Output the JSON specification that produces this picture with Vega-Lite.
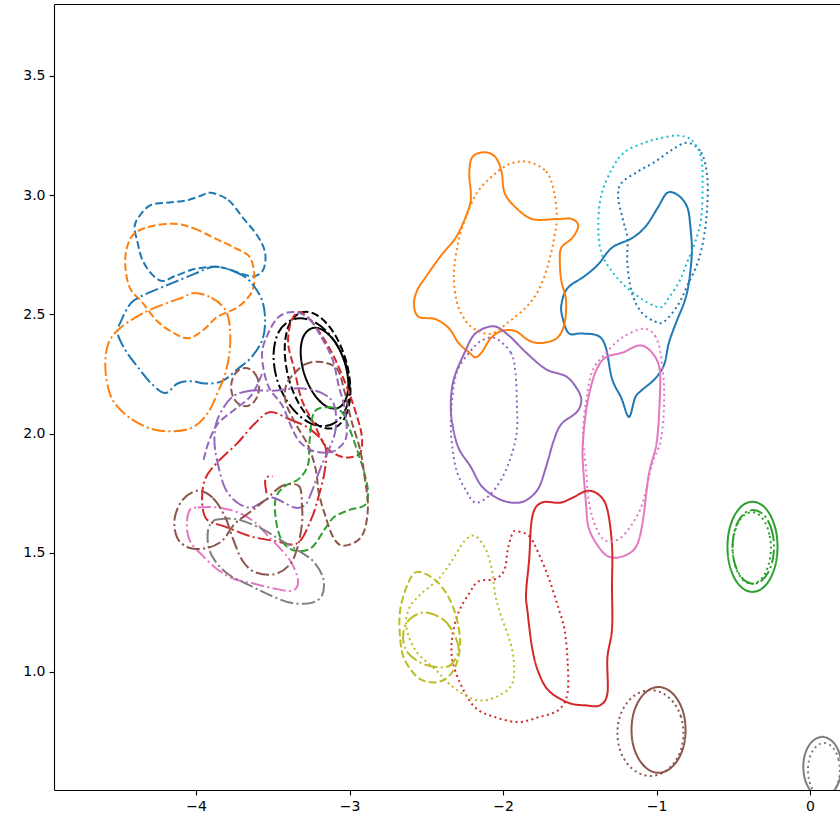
{
"$schema": "https://vega.github.io/schema/vega-lite/v6.json",
"autosize": {"type": "none"},
"padding": {"left": 54, "top": 4, "right": 0, "bottom": 29},
"width": 786,
"height": 786,
"background": "white",
"config": {
  "view": {"stroke": null},
  "axis": {"grid": false, "domainColor": "black", "domainWidth": 1.1, "tickColor": "black", "tickWidth": 1.1, "tickSize": 5, "labelColor": "black", "labelFont": "DejaVu Sans", "labelFontSize": 14, "labelPadding": 4, "title": null}
},
"data": {"values": [
{"c":"bl-s","x":-1.18,"y":2.07},{"c":"bl-s","x":-1.23,"y":2.15},{"c":"bl-s","x":-1.29,"y":2.23},{"c":"bl-s","x":-1.33,"y":2.36},{"c":"bl-s","x":-1.38,"y":2.41},{"c":"bl-s","x":-1.49,"y":2.42},{"c":"bl-s","x":-1.57,"y":2.42},{"c":"bl-s","x":-1.61,"y":2.48},{"c":"bl-s","x":-1.62,"y":2.54},{"c":"bl-s","x":-1.58,"y":2.61},{"c":"bl-s","x":-1.47,"y":2.66},{"c":"bl-s","x":-1.38,"y":2.71},{"c":"bl-s","x":-1.29,"y":2.78},{"c":"bl-s","x":-1.16,"y":2.82},{"c":"bl-s","x":-1.07,"y":2.87},{"c":"bl-s","x":-0.99,"y":2.95},{"c":"bl-s","x":-0.93,"y":3.01},{"c":"bl-s","x":-0.86,"y":3.0},{"c":"bl-s","x":-0.8,"y":2.95},{"c":"bl-s","x":-0.78,"y":2.87},{"c":"bl-s","x":-0.77,"y":2.76},{"c":"bl-s","x":-0.79,"y":2.63},{"c":"bl-s","x":-0.82,"y":2.55},{"c":"bl-s","x":-0.87,"y":2.47},{"c":"bl-s","x":-0.92,"y":2.38},{"c":"bl-s","x":-0.95,"y":2.29},{"c":"bl-s","x":-1.01,"y":2.23},{"c":"bl-s","x":-1.1,"y":2.18},{"c":"bl-s","x":-1.14,"y":2.15},
{"c":"or-s","x":-2.12,"y":3.18},{"c":"or-s","x":-2.05,"y":3.16},{"c":"or-s","x":-2.01,"y":3.1},{"c":"or-s","x":-1.99,"y":3.01},{"c":"or-s","x":-1.92,"y":2.95},{"c":"or-s","x":-1.81,"y":2.9},{"c":"or-s","x":-1.65,"y":2.9},{"c":"or-s","x":-1.55,"y":2.9},{"c":"or-s","x":-1.51,"y":2.87},{"c":"or-s","x":-1.55,"y":2.82},{"c":"or-s","x":-1.62,"y":2.78},{"c":"or-s","x":-1.63,"y":2.72},{"c":"or-s","x":-1.62,"y":2.64},{"c":"or-s","x":-1.59,"y":2.56},{"c":"or-s","x":-1.6,"y":2.46},{"c":"or-s","x":-1.65,"y":2.4},{"c":"or-s","x":-1.75,"y":2.38},{"c":"or-s","x":-1.83,"y":2.39},{"c":"or-s","x":-1.92,"y":2.43},{"c":"or-s","x":-2.01,"y":2.43},{"c":"or-s","x":-2.08,"y":2.4},{"c":"or-s","x":-2.14,"y":2.34},{"c":"or-s","x":-2.18,"y":2.32},{"c":"or-s","x":-2.22,"y":2.34},{"c":"or-s","x":-2.29,"y":2.38},{"c":"or-s","x":-2.35,"y":2.44},{"c":"or-s","x":-2.44,"y":2.48},{"c":"or-s","x":-2.55,"y":2.49},{"c":"or-s","x":-2.58,"y":2.54},{"c":"or-s","x":-2.56,"y":2.6},{"c":"or-s","x":-2.5,"y":2.66},{"c":"or-s","x":-2.4,"y":2.75},{"c":"or-s","x":-2.3,"y":2.83},{"c":"or-s","x":-2.22,"y":2.95},{"c":"or-s","x":-2.21,"y":3.01},{"c":"or-s","x":-2.22,"y":3.09},{"c":"or-s","x":-2.2,"y":3.16},
{"c":"pu-s","x":-2.06,"y":2.45},{"c":"pu-s","x":-1.96,"y":2.41},{"c":"pu-s","x":-1.85,"y":2.34},{"c":"pu-s","x":-1.72,"y":2.27},{"c":"pu-s","x":-1.59,"y":2.24},{"c":"pu-s","x":-1.52,"y":2.19},{"c":"pu-s","x":-1.49,"y":2.14},{"c":"pu-s","x":-1.52,"y":2.09},{"c":"pu-s","x":-1.62,"y":2.04},{"c":"pu-s","x":-1.67,"y":1.97},{"c":"pu-s","x":-1.72,"y":1.86},{"c":"pu-s","x":-1.77,"y":1.77},{"c":"pu-s","x":-1.85,"y":1.72},{"c":"pu-s","x":-1.94,"y":1.71},{"c":"pu-s","x":-2.04,"y":1.73},{"c":"pu-s","x":-2.14,"y":1.78},{"c":"pu-s","x":-2.21,"y":1.86},{"c":"pu-s","x":-2.29,"y":1.94},{"c":"pu-s","x":-2.33,"y":2.04},{"c":"pu-s","x":-2.34,"y":2.13},{"c":"pu-s","x":-2.32,"y":2.23},{"c":"pu-s","x":-2.25,"y":2.34},{"c":"pu-s","x":-2.18,"y":2.42},
{"c":"pk-s","x":-1.11,"y":2.37},{"c":"pk-s","x":-1.03,"y":2.34},{"c":"pk-s","x":-0.98,"y":2.27},{"c":"pk-s","x":-0.98,"y":2.13},{"c":"pk-s","x":-1.0,"y":1.96},{"c":"pk-s","x":-1.05,"y":1.83},{"c":"pk-s","x":-1.09,"y":1.63},{"c":"pk-s","x":-1.13,"y":1.53},{"c":"pk-s","x":-1.2,"y":1.49},{"c":"pk-s","x":-1.29,"y":1.48},{"c":"pk-s","x":-1.36,"y":1.51},{"c":"pk-s","x":-1.44,"y":1.6},{"c":"pk-s","x":-1.46,"y":1.71},{"c":"pk-s","x":-1.48,"y":1.88},{"c":"pk-s","x":-1.48,"y":1.96},{"c":"pk-s","x":-1.46,"y":2.09},{"c":"pk-s","x":-1.43,"y":2.19},{"c":"pk-s","x":-1.39,"y":2.27},{"c":"pk-s","x":-1.33,"y":2.32},{"c":"pk-s","x":-1.22,"y":2.34},
{"c":"rd-s","x":-1.45,"y":1.76},{"c":"rd-s","x":-1.37,"y":1.74},{"c":"rd-s","x":-1.32,"y":1.68},{"c":"rd-s","x":-1.29,"y":1.53},{"c":"rd-s","x":-1.29,"y":1.36},{"c":"rd-s","x":-1.29,"y":1.18},{"c":"rd-s","x":-1.32,"y":1.06},{"c":"rd-s","x":-1.32,"y":0.91},{"c":"rd-s","x":-1.37,"y":0.86},{"c":"rd-s","x":-1.46,"y":0.86},{"c":"rd-s","x":-1.57,"y":0.87},{"c":"rd-s","x":-1.7,"y":0.92},{"c":"rd-s","x":-1.77,"y":1.0},{"c":"rd-s","x":-1.81,"y":1.1},{"c":"rd-s","x":-1.84,"y":1.25},{"c":"rd-s","x":-1.85,"y":1.33},{"c":"rd-s","x":-1.83,"y":1.47},{"c":"rd-s","x":-1.81,"y":1.65},{"c":"rd-s","x":-1.75,"y":1.71},{"c":"rd-s","x":-1.63,"y":1.71},{"c":"rd-s","x":-1.55,"y":1.73},
{"c":"gr-s","x":-0.212,"y":1.525},{"c":"gr-s","x":-0.224,"y":1.597},{"c":"gr-s","x":-0.26,"y":1.659},{"c":"gr-s","x":-0.313,"y":1.7},{"c":"gr-s","x":-0.375,"y":1.714},{"c":"gr-s","x":-0.437,"y":1.7},{"c":"gr-s","x":-0.49,"y":1.659},{"c":"gr-s","x":-0.526,"y":1.597},{"c":"gr-s","x":-0.538,"y":1.525},{"c":"gr-s","x":-0.526,"y":1.453},{"c":"gr-s","x":-0.49,"y":1.391},{"c":"gr-s","x":-0.437,"y":1.35},{"c":"gr-s","x":-0.375,"y":1.336},{"c":"gr-s","x":-0.313,"y":1.35},{"c":"gr-s","x":-0.26,"y":1.391},{"c":"gr-s","x":-0.224,"y":1.453},
{"c":"gr-c","x":-0.235,"y":1.525},{"c":"gr-c","x":-0.245,"y":1.584},{"c":"gr-c","x":-0.275,"y":1.635},{"c":"gr-c","x":-0.318,"y":1.668},{"c":"gr-c","x":-0.37,"y":1.68},{"c":"gr-c","x":-0.422,"y":1.668},{"c":"gr-c","x":-0.465,"y":1.635},{"c":"gr-c","x":-0.495,"y":1.584},{"c":"gr-c","x":-0.505,"y":1.525},{"c":"gr-c","x":-0.495,"y":1.466},{"c":"gr-c","x":-0.465,"y":1.415},{"c":"gr-c","x":-0.422,"y":1.382},{"c":"gr-c","x":-0.37,"y":1.37},{"c":"gr-c","x":-0.318,"y":1.382},{"c":"gr-c","x":-0.275,"y":1.415},{"c":"gr-c","x":-0.245,"y":1.466},
{"c":"gr-d","x":-0.255,"y":1.52},{"c":"gr-d","x":-0.265,"y":1.577},{"c":"gr-d","x":-0.292,"y":1.626},{"c":"gr-d","x":-0.332,"y":1.659},{"c":"gr-d","x":-0.38,"y":1.67},{"c":"gr-d","x":-0.428,"y":1.659},{"c":"gr-d","x":-0.468,"y":1.626},{"c":"gr-d","x":-0.495,"y":1.577},{"c":"gr-d","x":-0.505,"y":1.52},{"c":"gr-d","x":-0.495,"y":1.463},{"c":"gr-d","x":-0.468,"y":1.414},{"c":"gr-d","x":-0.428,"y":1.381},{"c":"gr-d","x":-0.38,"y":1.37},{"c":"gr-d","x":-0.332,"y":1.381},{"c":"gr-d","x":-0.292,"y":1.414},{"c":"gr-d","x":-0.265,"y":1.463},
{"c":"br-s","x":-0.811,"y":0.757},{"c":"br-s","x":-0.824,"y":0.826},{"c":"br-s","x":-0.863,"y":0.884},{"c":"br-s","x":-0.92,"y":0.923},{"c":"br-s","x":-0.987,"y":0.937},{"c":"br-s","x":-1.054,"y":0.923},{"c":"br-s","x":-1.111,"y":0.884},{"c":"br-s","x":-1.15,"y":0.826},{"c":"br-s","x":-1.163,"y":0.757},{"c":"br-s","x":-1.15,"y":0.688},{"c":"br-s","x":-1.111,"y":0.63},{"c":"br-s","x":-1.054,"y":0.591},{"c":"br-s","x":-0.987,"y":0.577},{"c":"br-s","x":-0.92,"y":0.591},{"c":"br-s","x":-0.863,"y":0.63},{"c":"br-s","x":-0.824,"y":0.688},
{"c":"br-d","x":-0.825,"y":0.744},{"c":"br-d","x":-0.841,"y":0.813},{"c":"br-d","x":-0.888,"y":0.871},{"c":"br-d","x":-0.958,"y":0.91},{"c":"br-d","x":-1.04,"y":0.924},{"c":"br-d","x":-1.122,"y":0.91},{"c":"br-d","x":-1.192,"y":0.871},{"c":"br-d","x":-1.239,"y":0.813},{"c":"br-d","x":-1.255,"y":0.744},{"c":"br-d","x":-1.239,"y":0.675},{"c":"br-d","x":-1.192,"y":0.617},{"c":"br-d","x":-1.122,"y":0.578},{"c":"br-d","x":-1.04,"y":0.564},{"c":"br-d","x":-0.958,"y":0.578},{"c":"br-d","x":-0.888,"y":0.617},{"c":"br-d","x":-0.841,"y":0.675},
{"c":"gy-s","x":0.204,"y":0.602},{"c":"gy-s","x":0.195,"y":0.65},{"c":"gy-s","x":0.168,"y":0.691},{"c":"gy-s","x":0.127,"y":0.718},{"c":"gy-s","x":0.08,"y":0.728},{"c":"gy-s","x":0.033,"y":0.718},{"c":"gy-s","x":-0.008,"y":0.691},{"c":"gy-s","x":-0.035,"y":0.65},{"c":"gy-s","x":-0.044,"y":0.602},{"c":"gy-s","x":-0.035,"y":0.554},{"c":"gy-s","x":-0.008,"y":0.513},{"c":"gy-s","x":0.033,"y":0.486},{"c":"gy-s","x":0.08,"y":0.476},{"c":"gy-s","x":0.127,"y":0.486},{"c":"gy-s","x":0.168,"y":0.513},{"c":"gy-s","x":0.195,"y":0.554},
{"c":"gy-d","x":0.194,"y":0.589},{"c":"gy-d","x":0.186,"y":0.632},{"c":"gy-d","x":0.164,"y":0.669},{"c":"gy-d","x":0.13,"y":0.693},{"c":"gy-d","x":0.09,"y":0.702},{"c":"gy-d","x":0.05,"y":0.693},{"c":"gy-d","x":0.016,"y":0.669},{"c":"gy-d","x":-0.006,"y":0.632},{"c":"gy-d","x":-0.014,"y":0.589},{"c":"gy-d","x":-0.006,"y":0.546},{"c":"gy-d","x":0.016,"y":0.509},{"c":"gy-d","x":0.05,"y":0.485},{"c":"gy-d","x":0.09,"y":0.476},{"c":"gy-d","x":0.13,"y":0.485},{"c":"gy-d","x":0.164,"y":0.509},{"c":"gy-d","x":0.186,"y":0.546},
{"c":"bk-s","x":-3.078,"y":2.107},{"c":"bk-s","x":-3.025,"y":2.143},{"c":"bk-s","x":-3.008,"y":2.214},{"c":"bk-s","x":-3.033,"y":2.302},{"c":"bk-s","x":-3.092,"y":2.382},{"c":"bk-s","x":-3.171,"y":2.433},{"c":"bk-s","x":-3.244,"y":2.442},{"c":"bk-s","x":-3.301,"y":2.406},{"c":"bk-s","x":-3.318,"y":2.335},{"c":"bk-s","x":-3.293,"y":2.247},{"c":"bk-s","x":-3.233,"y":2.167},{"c":"bk-s","x":-3.155,"y":2.116},
{"c":"bk-a","x":-3.107,"y":2.023},{"c":"bk-a","x":-3.026,"y":2.072},{"c":"bk-a","x":-2.994,"y":2.173},{"c":"bk-a","x":-3.02,"y":2.299},{"c":"bk-a","x":-3.096,"y":2.416},{"c":"bk-a","x":-3.202,"y":2.493},{"c":"bk-a","x":-3.309,"y":2.509},{"c":"bk-a","x":-3.391,"y":2.46},{"c":"bk-a","x":-3.422,"y":2.359},{"c":"bk-a","x":-3.397,"y":2.233},{"c":"bk-a","x":-3.321,"y":2.116},{"c":"bk-a","x":-3.215,"y":2.039},
{"c":"bk-c","x":-3.122,"y":2.037},{"c":"bk-c","x":-3.032,"y":2.092},{"c":"bk-c","x":-2.999,"y":2.191},{"c":"bk-c","x":-3.033,"y":2.308},{"c":"bk-c","x":-3.124,"y":2.411},{"c":"bk-c","x":-3.248,"y":2.474},{"c":"bk-c","x":-3.372,"y":2.478},{"c":"bk-c","x":-3.463,"y":2.424},{"c":"bk-c","x":-3.495,"y":2.324},{"c":"bk-c","x":-3.462,"y":2.207},{"c":"bk-c","x":-3.37,"y":2.104},{"c":"bk-c","x":-3.247,"y":2.041},
{"c":"bl-d","x":-0.8,"y":3.22},{"c":"bl-d","x":-0.71,"y":3.18},{"c":"bl-d","x":-0.67,"y":3.08},{"c":"bl-d","x":-0.67,"y":2.95},{"c":"bl-d","x":-0.69,"y":2.83},{"c":"bl-d","x":-0.73,"y":2.72},{"c":"bl-d","x":-0.8,"y":2.62},{"c":"bl-d","x":-0.86,"y":2.54},{"c":"bl-d","x":-0.95,"y":2.47},{"c":"bl-d","x":-1.01,"y":2.47},{"c":"bl-d","x":-1.1,"y":2.51},{"c":"bl-d","x":-1.16,"y":2.59},{"c":"bl-d","x":-1.19,"y":2.71},{"c":"bl-d","x":-1.19,"y":2.82},{"c":"bl-d","x":-1.22,"y":2.9},{"c":"bl-d","x":-1.25,"y":2.99},{"c":"bl-d","x":-1.23,"y":3.05},{"c":"bl-d","x":-1.12,"y":3.1},{"c":"bl-d","x":-1.01,"y":3.14},{"c":"bl-d","x":-0.9,"y":3.19},
{"c":"cy-d","x":-0.86,"y":3.25},{"c":"cy-d","x":-0.77,"y":3.23},{"c":"cy-d","x":-0.71,"y":3.16},{"c":"cy-d","x":-0.7,"y":3.04},{"c":"cy-d","x":-0.71,"y":2.9},{"c":"cy-d","x":-0.75,"y":2.8},{"c":"cy-d","x":-0.8,"y":2.72},{"c":"cy-d","x":-0.85,"y":2.64},{"c":"cy-d","x":-0.92,"y":2.57},{"c":"cy-d","x":-0.97,"y":2.53},{"c":"cy-d","x":-1.06,"y":2.55},{"c":"cy-d","x":-1.19,"y":2.61},{"c":"cy-d","x":-1.29,"y":2.68},{"c":"cy-d","x":-1.36,"y":2.76},{"c":"cy-d","x":-1.38,"y":2.87},{"c":"cy-d","x":-1.36,"y":3.0},{"c":"cy-d","x":-1.29,"y":3.11},{"c":"cy-d","x":-1.21,"y":3.18},{"c":"cy-d","x":-1.08,"y":3.22},{"c":"cy-d","x":-0.97,"y":3.24},
{"c":"or-d","x":-1.84,"y":3.14},{"c":"or-d","x":-1.72,"y":3.1},{"c":"or-d","x":-1.67,"y":3.02},{"c":"or-d","x":-1.65,"y":2.91},{"c":"or-d","x":-1.67,"y":2.81},{"c":"or-d","x":-1.71,"y":2.7},{"c":"or-d","x":-1.77,"y":2.6},{"c":"or-d","x":-1.85,"y":2.53},{"c":"or-d","x":-1.96,"y":2.47},{"c":"or-d","x":-2.07,"y":2.42},{"c":"or-d","x":-2.16,"y":2.43},{"c":"or-d","x":-2.24,"y":2.47},{"c":"or-d","x":-2.3,"y":2.55},{"c":"or-d","x":-2.32,"y":2.67},{"c":"or-d","x":-2.29,"y":2.81},{"c":"or-d","x":-2.24,"y":2.91},{"c":"or-d","x":-2.17,"y":3.01},{"c":"or-d","x":-2.07,"y":3.08},{"c":"or-d","x":-1.96,"y":3.13},
{"c":"pu-d","x":-2.05,"y":2.4},{"c":"pu-d","x":-1.95,"y":2.34},{"c":"pu-d","x":-1.92,"y":2.26},{"c":"pu-d","x":-1.91,"y":2.13},{"c":"pu-d","x":-1.91,"y":2.01},{"c":"pu-d","x":-1.95,"y":1.9},{"c":"pu-d","x":-2.01,"y":1.81},{"c":"pu-d","x":-2.09,"y":1.74},{"c":"pu-d","x":-2.18,"y":1.71},{"c":"pu-d","x":-2.24,"y":1.76},{"c":"pu-d","x":-2.3,"y":1.84},{"c":"pu-d","x":-2.33,"y":1.94},{"c":"pu-d","x":-2.34,"y":2.04},{"c":"pu-d","x":-2.33,"y":2.15},{"c":"pu-d","x":-2.3,"y":2.26},{"c":"pu-d","x":-2.22,"y":2.34},{"c":"pu-d","x":-2.14,"y":2.39},
{"c":"pk-d","x":-1.09,"y":2.44},{"c":"pk-d","x":-1.01,"y":2.41},{"c":"pk-d","x":-0.97,"y":2.32},{"c":"pk-d","x":-0.95,"y":2.16},{"c":"pk-d","x":-0.97,"y":1.98},{"c":"pk-d","x":-1.03,"y":1.87},{"c":"pk-d","x":-1.09,"y":1.71},{"c":"pk-d","x":-1.16,"y":1.62},{"c":"pk-d","x":-1.24,"y":1.56},{"c":"pk-d","x":-1.33,"y":1.55},{"c":"pk-d","x":-1.39,"y":1.6},{"c":"pk-d","x":-1.44,"y":1.71},{"c":"pk-d","x":-1.46,"y":1.86},{"c":"pk-d","x":-1.48,"y":1.99},{"c":"pk-d","x":-1.46,"y":2.13},{"c":"pk-d","x":-1.42,"y":2.26},{"c":"pk-d","x":-1.34,"y":2.33},{"c":"pk-d","x":-1.23,"y":2.4},
{"c":"rd-d","x":-1.91,"y":1.59},{"c":"rd-d","x":-1.83,"y":1.57},{"c":"rd-d","x":-1.77,"y":1.5},{"c":"rd-d","x":-1.7,"y":1.39},{"c":"rd-d","x":-1.64,"y":1.27},{"c":"rd-d","x":-1.6,"y":1.18},{"c":"rd-d","x":-1.58,"y":1.05},{"c":"rd-d","x":-1.58,"y":0.91},{"c":"rd-d","x":-1.64,"y":0.84},{"c":"rd-d","x":-1.77,"y":0.81},{"c":"rd-d","x":-1.9,"y":0.79},{"c":"rd-d","x":-2.05,"y":0.81},{"c":"rd-d","x":-2.18,"y":0.85},{"c":"rd-d","x":-2.27,"y":0.94},{"c":"rd-d","x":-2.33,"y":1.05},{"c":"rd-d","x":-2.33,"y":1.15},{"c":"rd-d","x":-2.29,"y":1.25},{"c":"rd-d","x":-2.22,"y":1.33},{"c":"rd-d","x":-2.16,"y":1.38},{"c":"rd-d","x":-2.05,"y":1.39},{"c":"rd-d","x":-1.99,"y":1.43},{"c":"rd-d","x":-1.97,"y":1.51},{"c":"rd-d","x":-1.94,"y":1.58},
{"c":"ol-d","x":-2.18,"y":1.57},{"c":"ol-d","x":-2.11,"y":1.51},{"c":"ol-d","x":-2.07,"y":1.42},{"c":"ol-d","x":-2.05,"y":1.32},{"c":"ol-d","x":-2.01,"y":1.23},{"c":"ol-d","x":-1.96,"y":1.14},{"c":"ol-d","x":-1.93,"y":1.05},{"c":"ol-d","x":-1.94,"y":0.95},{"c":"ol-d","x":-2.03,"y":0.9},{"c":"ol-d","x":-2.14,"y":0.88},{"c":"ol-d","x":-2.24,"y":0.9},{"c":"ol-d","x":-2.35,"y":0.95},{"c":"ol-d","x":-2.44,"y":1.01},{"c":"ol-d","x":-2.57,"y":1.09},{"c":"ol-d","x":-2.63,"y":1.19},{"c":"ol-d","x":-2.61,"y":1.27},{"c":"ol-d","x":-2.53,"y":1.33},{"c":"ol-d","x":-2.42,"y":1.39},{"c":"ol-d","x":-2.33,"y":1.47},{"c":"ol-d","x":-2.25,"y":1.55},
{"c":"ol-a","x":-2.56,"y":1.42},{"c":"ol-a","x":-2.45,"y":1.39},{"c":"ol-a","x":-2.36,"y":1.32},{"c":"ol-a","x":-2.3,"y":1.22},{"c":"ol-a","x":-2.28,"y":1.11},{"c":"ol-a","x":-2.32,"y":1.01},{"c":"ol-a","x":-2.41,"y":0.96},{"c":"ol-a","x":-2.54,"y":0.97},{"c":"ol-a","x":-2.64,"y":1.05},{"c":"ol-a","x":-2.67,"y":1.14},{"c":"ol-a","x":-2.67,"y":1.26},{"c":"ol-a","x":-2.62,"y":1.37},
{"c":"ol-c","x":-2.51,"y":1.25},{"c":"ol-c","x":-2.39,"y":1.22},{"c":"ol-c","x":-2.32,"y":1.16},{"c":"ol-c","x":-2.29,"y":1.09},{"c":"ol-c","x":-2.34,"y":1.03},{"c":"ol-c","x":-2.43,"y":1.02},{"c":"ol-c","x":-2.54,"y":1.04},{"c":"ol-c","x":-2.63,"y":1.09},{"c":"ol-c","x":-2.65,"y":1.16},{"c":"ol-c","x":-2.61,"y":1.22},
{"c":"bl-a","x":-3.9,"y":3.01},{"c":"bl-a","x":-3.79,"y":2.98},{"c":"bl-a","x":-3.7,"y":2.91},{"c":"bl-a","x":-3.6,"y":2.83},{"c":"bl-a","x":-3.55,"y":2.76},{"c":"bl-a","x":-3.56,"y":2.69},{"c":"bl-a","x":-3.62,"y":2.66},{"c":"bl-a","x":-3.7,"y":2.67},{"c":"bl-a","x":-3.79,"y":2.69},{"c":"bl-a","x":-3.88,"y":2.7},{"c":"bl-a","x":-4.01,"y":2.69},{"c":"bl-a","x":-4.14,"y":2.66},{"c":"bl-a","x":-4.22,"y":2.64},{"c":"bl-a","x":-4.29,"y":2.67},{"c":"bl-a","x":-4.35,"y":2.73},{"c":"bl-a","x":-4.38,"y":2.8},{"c":"bl-a","x":-4.4,"y":2.87},{"c":"bl-a","x":-4.36,"y":2.92},{"c":"bl-a","x":-4.29,"y":2.96},{"c":"bl-a","x":-4.16,"y":2.97},{"c":"bl-a","x":-4.05,"y":2.98},{"c":"bl-a","x":-3.96,"y":3.0},
{"c":"or-a","x":-4.14,"y":2.88},{"c":"or-a","x":-4.01,"y":2.86},{"c":"or-a","x":-3.88,"y":2.82},{"c":"or-a","x":-3.75,"y":2.78},{"c":"or-a","x":-3.65,"y":2.74},{"c":"or-a","x":-3.62,"y":2.66},{"c":"or-a","x":-3.64,"y":2.59},{"c":"or-a","x":-3.73,"y":2.53},{"c":"or-a","x":-3.86,"y":2.49},{"c":"or-a","x":-3.96,"y":2.43},{"c":"or-a","x":-4.05,"y":2.4},{"c":"or-a","x":-4.14,"y":2.42},{"c":"or-a","x":-4.25,"y":2.47},{"c":"or-a","x":-4.35,"y":2.55},{"c":"or-a","x":-4.43,"y":2.61},{"c":"or-a","x":-4.46,"y":2.7},{"c":"or-a","x":-4.45,"y":2.78},{"c":"or-a","x":-4.4,"y":2.84},{"c":"or-a","x":-4.29,"y":2.87},
{"c":"bl-c","x":-3.88,"y":2.7},{"c":"bl-c","x":-3.75,"y":2.68},{"c":"bl-c","x":-3.65,"y":2.64},{"c":"bl-c","x":-3.57,"y":2.56},{"c":"bl-c","x":-3.55,"y":2.47},{"c":"bl-c","x":-3.57,"y":2.39},{"c":"bl-c","x":-3.64,"y":2.32},{"c":"bl-c","x":-3.73,"y":2.27},{"c":"bl-c","x":-3.83,"y":2.22},{"c":"bl-c","x":-3.94,"y":2.21},{"c":"bl-c","x":-4.03,"y":2.22},{"c":"bl-c","x":-4.12,"y":2.21},{"c":"bl-c","x":-4.2,"y":2.17},{"c":"bl-c","x":-4.29,"y":2.21},{"c":"bl-c","x":-4.38,"y":2.28},{"c":"bl-c","x":-4.46,"y":2.35},{"c":"bl-c","x":-4.51,"y":2.42},{"c":"bl-c","x":-4.49,"y":2.47},{"c":"bl-c","x":-4.42,"y":2.55},{"c":"bl-c","x":-4.31,"y":2.59},{"c":"bl-c","x":-4.16,"y":2.63},{"c":"bl-c","x":-4.01,"y":2.67},
{"c":"or-c","x":-4.01,"y":2.59},{"c":"or-c","x":-3.9,"y":2.57},{"c":"or-c","x":-3.81,"y":2.52},{"c":"or-c","x":-3.78,"y":2.45},{"c":"or-c","x":-3.78,"y":2.35},{"c":"or-c","x":-3.81,"y":2.25},{"c":"or-c","x":-3.86,"y":2.17},{"c":"or-c","x":-3.92,"y":2.09},{"c":"or-c","x":-4.01,"y":2.03},{"c":"or-c","x":-4.14,"y":2.01},{"c":"or-c","x":-4.29,"y":2.02},{"c":"or-c","x":-4.44,"y":2.07},{"c":"or-c","x":-4.55,"y":2.15},{"c":"or-c","x":-4.59,"y":2.27},{"c":"or-c","x":-4.57,"y":2.38},{"c":"or-c","x":-4.48,"y":2.45},{"c":"or-c","x":-4.33,"y":2.51},{"c":"or-c","x":-4.18,"y":2.55},{"c":"or-c","x":-4.09,"y":2.57},
{"c":"rd-a","x":-3.33,"y":2.51},{"c":"rd-a","x":-3.26,"y":2.48},{"c":"rd-a","x":-3.18,"y":2.41},{"c":"rd-a","x":-3.1,"y":2.32},{"c":"rd-a","x":-3.02,"y":2.2},{"c":"rd-a","x":-2.96,"y":2.09},{"c":"rd-a","x":-2.92,"y":1.99},{"c":"rd-a","x":-2.93,"y":1.92},{"c":"rd-a","x":-3.0,"y":1.9},{"c":"rd-a","x":-3.08,"y":1.91},{"c":"rd-a","x":-3.16,"y":1.95},{"c":"rd-a","x":-3.23,"y":2.04},{"c":"rd-a","x":-3.31,"y":2.14},{"c":"rd-a","x":-3.36,"y":2.27},{"c":"rd-a","x":-3.4,"y":2.38},{"c":"rd-a","x":-3.38,"y":2.47},
{"c":"rd-c","x":-3.52,"y":2.09},{"c":"rd-c","x":-3.39,"y":2.06},{"c":"rd-c","x":-3.26,"y":2.02},{"c":"rd-c","x":-3.16,"y":1.95},{"c":"rd-c","x":-3.16,"y":1.85},{"c":"rd-c","x":-3.2,"y":1.74},{"c":"rd-c","x":-3.25,"y":1.64},{"c":"rd-c","x":-3.34,"y":1.54},{"c":"rd-c","x":-3.49,"y":1.55},{"c":"rd-c","x":-3.65,"y":1.57},{"c":"rd-c","x":-3.81,"y":1.61},{"c":"rd-c","x":-3.93,"y":1.64},{"c":"rd-c","x":-3.96,"y":1.72},{"c":"rd-c","x":-3.94,"y":1.81},{"c":"rd-c","x":-3.86,"y":1.88},{"c":"rd-c","x":-3.73,"y":1.96},{"c":"rd-c","x":-3.62,"y":2.04},
{"c":"gr-a","x":-3.23,"y":2.09},{"c":"gr-a","x":-3.13,"y":2.11},{"c":"gr-a","x":-3.05,"y":2.09},{"c":"gr-a","x":-3.0,"y":2.02},{"c":"gr-a","x":-2.95,"y":1.93},{"c":"gr-a","x":-2.91,"y":1.85},{"c":"gr-a","x":-2.88,"y":1.76},{"c":"gr-a","x":-2.9,"y":1.7},{"c":"gr-a","x":-3.0,"y":1.68},{"c":"gr-a","x":-3.1,"y":1.65},{"c":"gr-a","x":-3.16,"y":1.6},{"c":"gr-a","x":-3.25,"y":1.52},{"c":"gr-a","x":-3.36,"y":1.51},{"c":"gr-a","x":-3.44,"y":1.55},{"c":"gr-a","x":-3.48,"y":1.64},{"c":"gr-a","x":-3.48,"y":1.73},{"c":"gr-a","x":-3.42,"y":1.78},{"c":"gr-a","x":-3.33,"y":1.81},{"c":"gr-a","x":-3.27,"y":1.87},{"c":"gr-a","x":-3.26,"y":1.97},
{"c":"br-a","x":-3.39,"y":2.23},{"c":"br-a","x":-3.29,"y":2.29},{"c":"br-a","x":-3.18,"y":2.3},{"c":"br-a","x":-3.08,"y":2.27},{"c":"br-a","x":-3.03,"y":2.17},{"c":"br-a","x":-2.99,"y":2.06},{"c":"br-a","x":-2.93,"y":1.93},{"c":"br-a","x":-2.9,"y":1.81},{"c":"br-a","x":-2.88,"y":1.7},{"c":"br-a","x":-2.9,"y":1.6},{"c":"br-a","x":-2.95,"y":1.55},{"c":"br-a","x":-3.05,"y":1.53},{"c":"br-a","x":-3.11,"y":1.57},{"c":"br-a","x":-3.16,"y":1.66},{"c":"br-a","x":-3.2,"y":1.75},{"c":"br-a","x":-3.22,"y":1.85},{"c":"br-a","x":-3.27,"y":1.95},{"c":"br-a","x":-3.35,"y":2.04},{"c":"br-a","x":-3.41,"y":2.12},{"c":"br-a","x":-3.42,"y":2.18},
{"c":"br-a2","x":-3.589,"y":2.195},{"c":"br-a2","x":-3.601,"y":2.235},{"c":"br-a2","x":-3.634,"y":2.264},{"c":"br-a2","x":-3.68,"y":2.275},{"c":"br-a2","x":-3.726,"y":2.264},{"c":"br-a2","x":-3.759,"y":2.235},{"c":"br-a2","x":-3.771,"y":2.195},{"c":"br-a2","x":-3.759,"y":2.155},{"c":"br-a2","x":-3.726,"y":2.126},{"c":"br-a2","x":-3.68,"y":2.115},{"c":"br-a2","x":-3.634,"y":2.126},{"c":"br-a2","x":-3.601,"y":2.155},
{"c":"pu-a","x":-3.36,"y":2.51},{"c":"pu-a","x":-3.26,"y":2.48},{"c":"pu-a","x":-3.18,"y":2.4},{"c":"pu-a","x":-3.11,"y":2.31},{"c":"pu-a","x":-3.07,"y":2.2},{"c":"pu-a","x":-3.03,"y":2.1},{"c":"pu-a","x":-3.02,"y":1.99},{"c":"pu-a","x":-3.07,"y":1.94},{"c":"pu-a","x":-3.14,"y":1.92},{"c":"pu-a","x":-3.25,"y":1.93},{"c":"pu-a","x":-3.33,"y":1.97},{"c":"pu-a","x":-3.38,"y":2.03},{"c":"pu-a","x":-3.44,"y":2.12},{"c":"pu-a","x":-3.53,"y":2.2},{"c":"pu-a","x":-3.57,"y":2.33},{"c":"pu-a","x":-3.53,"y":2.42},{"c":"pu-a","x":-3.46,"y":2.49},
{"c":"pu-c","x":-3.77,"y":2.15},{"c":"pu-c","x":-3.65,"y":2.18},{"c":"pu-c","x":-3.49,"y":2.18},{"c":"pu-c","x":-3.33,"y":2.19},{"c":"pu-c","x":-3.18,"y":2.17},{"c":"pu-c","x":-3.1,"y":2.12},{"c":"pu-c","x":-3.09,"y":2.02},{"c":"pu-c","x":-3.13,"y":1.94},{"c":"pu-c","x":-3.18,"y":1.87},{"c":"pu-c","x":-3.25,"y":1.75},{"c":"pu-c","x":-3.29,"y":1.7},{"c":"pu-c","x":-3.36,"y":1.69},{"c":"pu-c","x":-3.49,"y":1.73},{"c":"pu-c","x":-3.55,"y":1.72},{"c":"pu-c","x":-3.64,"y":1.69},{"c":"pu-c","x":-3.73,"y":1.71},{"c":"pu-c","x":-3.81,"y":1.77},{"c":"pu-c","x":-3.86,"y":1.88},{"c":"pu-c","x":-3.88,"y":1.97},{"c":"pu-c","x":-3.86,"y":2.06},
{"c":"pk-c","x":-4.04,"y":1.68},{"c":"pk-c","x":-3.99,"y":1.69},{"c":"pk-c","x":-3.86,"y":1.69},{"c":"pk-c","x":-3.73,"y":1.67},{"c":"pk-c","x":-3.62,"y":1.63},{"c":"pk-c","x":-3.53,"y":1.57},{"c":"pk-c","x":-3.44,"y":1.51},{"c":"pk-c","x":-3.38,"y":1.46},{"c":"pk-c","x":-3.34,"y":1.4},{"c":"pk-c","x":-3.34,"y":1.36},{"c":"pk-c","x":-3.38,"y":1.34},{"c":"pk-c","x":-3.49,"y":1.35},{"c":"pk-c","x":-3.62,"y":1.37},{"c":"pk-c","x":-3.75,"y":1.39},{"c":"pk-c","x":-3.86,"y":1.43},{"c":"pk-c","x":-3.96,"y":1.49},{"c":"pk-c","x":-4.04,"y":1.55},{"c":"pk-c","x":-4.06,"y":1.62},
{"c":"gy-c","x":-3.89,"y":1.63},{"c":"gy-c","x":-3.86,"y":1.64},{"c":"gy-c","x":-3.73,"y":1.64},{"c":"gy-c","x":-3.57,"y":1.6},{"c":"gy-c","x":-3.44,"y":1.55},{"c":"gy-c","x":-3.31,"y":1.5},{"c":"gy-c","x":-3.23,"y":1.46},{"c":"gy-c","x":-3.17,"y":1.39},{"c":"gy-c","x":-3.18,"y":1.32},{"c":"gy-c","x":-3.25,"y":1.29},{"c":"gy-c","x":-3.38,"y":1.29},{"c":"gy-c","x":-3.51,"y":1.32},{"c":"gy-c","x":-3.64,"y":1.36},{"c":"gy-c","x":-3.79,"y":1.41},{"c":"gy-c","x":-3.88,"y":1.47},{"c":"gy-c","x":-3.92,"y":1.53},{"c":"gy-c","x":-3.92,"y":1.6},
{"c":"br-c","x":-3.99,"y":1.76},{"c":"br-c","x":-3.89,"y":1.73},{"c":"br-c","x":-3.81,"y":1.65},{"c":"br-c","x":-3.76,"y":1.56},{"c":"br-c","x":-3.7,"y":1.47},{"c":"br-c","x":-3.62,"y":1.42},{"c":"br-c","x":-3.49,"y":1.41},{"c":"br-c","x":-3.39,"y":1.45},{"c":"br-c","x":-3.34,"y":1.52},{"c":"br-c","x":-3.31,"y":1.62},{"c":"br-c","x":-3.31,"y":1.7},{"c":"br-c","x":-3.33,"y":1.78},{"c":"br-c","x":-3.44,"y":1.78},{"c":"br-c","x":-3.55,"y":1.72},{"c":"br-c","x":-3.65,"y":1.67},{"c":"br-c","x":-3.75,"y":1.62},{"c":"br-c","x":-3.83,"y":1.55},{"c":"br-c","x":-3.93,"y":1.52},{"c":"br-c","x":-4.04,"y":1.52},{"c":"br-c","x":-4.12,"y":1.56},{"c":"br-c","x":-4.14,"y":1.64},{"c":"br-c","x":-4.09,"y":1.72},
{"c":"pu-a2","x":-3.57,"y":2.25},{"c":"pu-a2","x":-3.64,"y":2.16},{"c":"pu-a2","x":-3.75,"y":2.1},{"c":"pu-a2","x":-3.86,"y":2.04},{"c":"pu-a2","x":-3.92,"y":1.96},{"c":"pu-a2","x":-3.95,"y":1.89},
{"c":"rd-c2","x":-3.54,"y":1.75},{"c":"rd-c2","x":-3.55,"y":1.8},{"c":"rd-c2","x":-3.53,"y":1.82},{"c":"rd-c2","x":-3.5,"y":1.82}
]},
"encoding": {
  "detail": {"field": "c"},
  "order": {"value": null},
  "color": {"field": "c", "type": "nominal", "legend": null, "scale": {
    "domain": ["bl-s","bl-d","bl-a","bl-c","or-s","or-d","or-a","or-c","gr-s","gr-d","gr-c","gr-a","rd-s","rd-d","rd-a","rd-c","rd-c2","pu-s","pu-d","pu-a","pu-a2","pu-c","br-s","br-d","br-a","br-a2","br-c","pk-s","pk-d","pk-c","gy-s","gy-d","gy-c","ol-d","ol-a","ol-c","cy-d","bk-s","bk-a","bk-c"],
    "range": ["#1f77b4","#1f77b4","#1f77b4","#1f77b4","#ff7f0e","#ff7f0e","#ff7f0e","#ff7f0e","#2ca02c","#2ca02c","#2ca02c","#2ca02c","#d62728","#d62728","#d62728","#d62728","#d62728","#9467bd","#9467bd","#9467bd","#9467bd","#9467bd","#8c564b","#8c564b","#8c564b","#8c564b","#8c564b","#e377c2","#e377c2","#e377c2","#7f7f7f","#7f7f7f","#7f7f7f","#bcbd22","#bcbd22","#bcbd22","#17becf","#000000","#000000","#000000"]}},
  "strokeDash": {"field": "c", "type": "nominal", "legend": null, "scale": {
    "domain": ["bl-s","bl-d","bl-a","bl-c","or-s","or-d","or-a","or-c","gr-s","gr-d","gr-c","gr-a","rd-s","rd-d","rd-a","rd-c","rd-c2","pu-s","pu-d","pu-a","pu-a2","pu-c","br-s","br-d","br-a","br-a2","br-c","pk-s","pk-d","pk-c","gy-s","gy-d","gy-c","ol-d","ol-a","ol-c","cy-d","bk-s","bk-a","bk-c"],
    "range": [[1,0],[2,3.4],[7.7,3.3],[13.3,3.3,2.1,3.3],[1,0],[2,3.4],[7.7,3.3],[13.3,3.3,2.1,3.3],[1,0],[2,3.4],[13.3,3.3,2.1,3.3],[7.7,3.3],[1,0],[2,3.4],[7.7,3.3],[13.3,3.3,2.1,3.3],[13.3,3.3,2.1,3.3],[1,0],[2,3.4],[7.7,3.3],[7.7,3.3],[13.3,3.3,2.1,3.3],[1,0],[2,3.4],[7.7,3.3],[7.7,3.3],[13.3,3.3,2.1,3.3],[1,0],[2,3.4],[13.3,3.3,2.1,3.3],[1,0],[2,3.4],[13.3,3.3,2.1,3.3],[2,3.4],[7.7,3.3],[13.3,3.3,2.1,3.3],[2,3.4],[1,0],[7.7,3.3],[13.3,3.3,2.1,3.3]]}}
},
"layer": [
  {
    "transform": [{"filter": "datum.c != 'pu-a2' && datum.c != 'rd-c2'"}],
    "mark": {"type": "line", "interpolate": "cardinal-closed", "strokeWidth": 2, "clip": true},
    "encoding": {
      "x": {"field": "x", "type": "quantitative", "scale": {"domain": [-4.925, 0.195], "nice": false, "zero": false}, "axis": {"values": [-4, -3, -2, -1, 0], "labelExpr": "replace(datum.label, '-', '\u2212')"}},
      "y": {"field": "y", "type": "quantitative", "scale": {"domain": [0.505, 3.802], "nice": false, "zero": false}, "axis": {"values": [1, 1.5, 2, 2.5, 3, 3.5], "format": ".1f"}}
    }
  },
  {
    "transform": [{"filter": "datum.c == 'pu-a2' || datum.c == 'rd-c2'"}],
    "mark": {"type": "line", "interpolate": "cardinal", "strokeWidth": 2, "clip": true},
    "encoding": {
      "x": {"field": "x", "type": "quantitative", "scale": {"domain": [-4.925, 0.195], "nice": false, "zero": false}, "axis": {"orient": "top", "labels": false, "ticks": false, "domain": true}},
      "y": {"field": "y", "type": "quantitative", "scale": {"domain": [0.505, 3.802], "nice": false, "zero": false}, "axis": null}
    }
  }
],
"resolve": {"axis": {"x": "independent", "y": "independent"}}
}
